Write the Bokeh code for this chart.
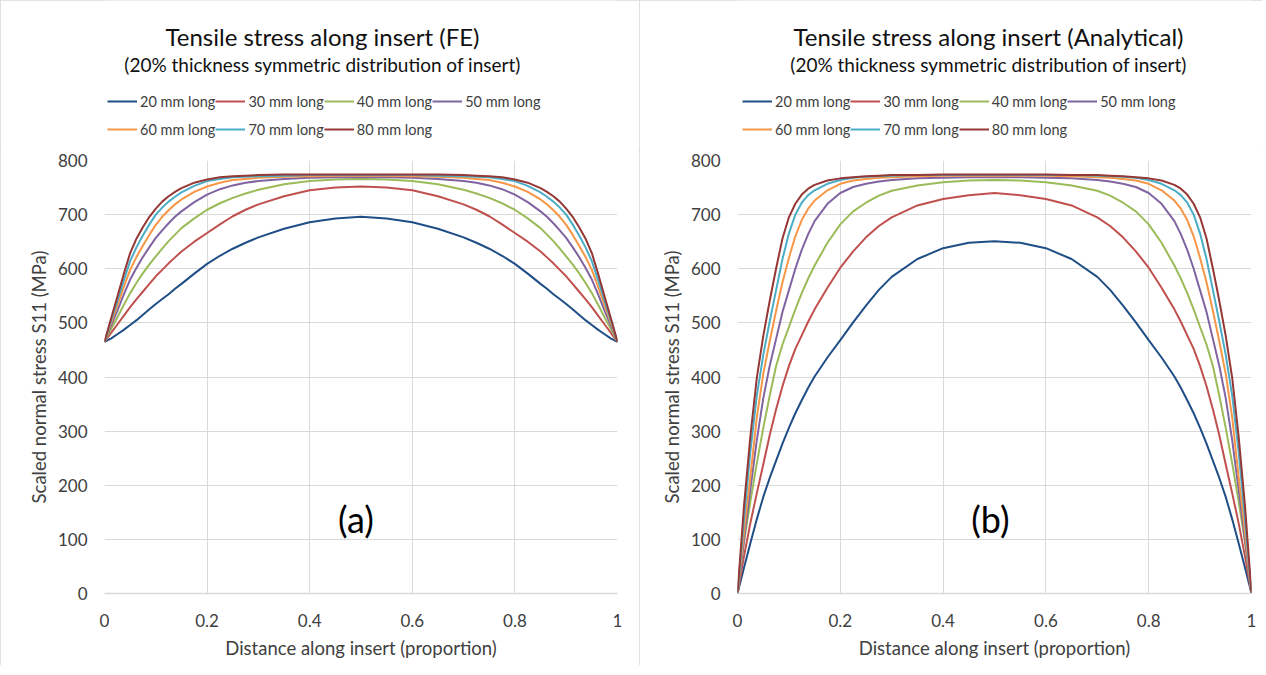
from bokeh.plotting import figure
from bokeh.layouts import row, column
from bokeh.models import Label, Legend, LegendItem, FixedTicker, Range1d
from bokeh.embed import file_html
from bokeh.resources import INLINE

# ---------------- data ----------------
x_prop = [0, 0.0125, 0.025, 0.0375, 0.05, 0.0625, 0.075, 0.0875, 0.1, 0.1125, 0.125, 0.1375, 0.15,
          0.175, 0.2, 0.225, 0.25, 0.275, 0.3, 0.35, 0.4, 0.45, 0.5,
          0.55, 0.6, 0.65, 0.7, 0.725, 0.75, 0.775, 0.8, 0.825, 0.85, 0.8625, 0.875, 0.8875,
          0.9, 0.9125, 0.925, 0.9375, 0.95, 0.9625, 0.975, 0.9875, 1]

series_names = ["20 mm long", "30 mm long", "40 mm long", "50 mm long",
                "60 mm long", "70 mm long", "80 mm long"]

fe_20 = [465, 471, 479, 487, 496, 505, 515, 525, 535, 544, 553, 563, 572, 591, 609, 624, 637, 648, 658, 674, 686, 693, 696,
         693, 686, 674, 658, 648, 637, 624, 609, 591, 572, 563, 553, 544, 535, 525, 515, 505, 496, 487, 479, 471, 465]
fe_30 = [465, 481, 497, 513, 529, 544, 558, 572, 586, 598, 610, 621, 632, 650, 666, 682, 697, 709, 719, 734, 745, 750, 752,
         750, 745, 734, 719, 709, 697, 682, 666, 650, 632, 621, 610, 598, 586, 572, 558, 544, 529, 513, 497, 481, 465]
fe_40 = [465, 488, 510, 533, 555, 574, 592, 608, 623, 637, 651, 663, 675, 693, 709, 721, 731, 739, 746, 756, 762, 765, 766,
         765, 762, 756, 746, 739, 731, 721, 709, 693, 675, 663, 651, 637, 623, 608, 592, 574, 555, 533, 510, 488, 465]
fe_50 = [465, 494, 522, 552, 580, 602, 622, 640, 657, 671, 684, 696, 706, 723, 737, 747, 754, 759, 762, 766, 768, 769, 769,
         769, 768, 766, 762, 759, 754, 747, 737, 723, 706, 696, 684, 671, 657, 640, 622, 602, 580, 552, 522, 494, 465]
fe_60 = [465, 499, 532, 566, 598, 622, 643, 663, 681, 696, 708, 719, 728, 742, 752, 759, 764, 766, 768, 770, 771, 772, 772,
         772, 771, 770, 768, 766, 764, 759, 752, 742, 728, 719, 708, 696, 681, 663, 643, 622, 598, 566, 532, 499, 465]
fe_70 = [465, 503, 540, 578, 614, 640, 662, 682, 700, 713, 724, 733, 741, 753, 762, 766, 769, 770, 771, 772, 773, 773, 773,
         773, 773, 772, 771, 770, 769, 766, 762, 753, 741, 733, 724, 713, 700, 682, 662, 640, 614, 578, 540, 503, 465]
fe_80 = [465, 507, 548, 590, 629, 656, 677, 696, 711, 724, 734, 742, 749, 759, 765, 769, 771, 772, 773, 774, 774, 774, 774,
         774, 774, 774, 773, 772, 771, 769, 765, 759, 749, 742, 734, 724, 711, 696, 677, 656, 629, 590, 548, 507, 465]

an_20 = [0, 47, 93, 137, 178, 213, 245, 277, 306, 333, 357, 380, 401, 436, 468, 501, 532, 561, 585, 618, 638, 648, 651,
         648, 638, 618, 585, 561, 532, 501, 468, 436, 401, 380, 357, 333, 306, 277, 245, 213, 178, 137, 93, 47, 0]
an_30 = [0, 68, 130, 185, 238, 292, 340, 383, 420, 452, 477, 502, 525, 565, 602, 632, 658, 679, 695, 717, 729, 736, 740,
         736, 729, 717, 695, 679, 658, 632, 602, 565, 525, 502, 477, 452, 420, 383, 340, 292, 238, 185, 130, 68, 0]
an_40 = [0, 95, 170, 240, 305, 365, 420, 460, 492, 525, 555, 582, 606, 648, 682, 706, 722, 735, 744, 754, 760, 763, 764,
         763, 760, 754, 744, 735, 722, 706, 682, 648, 606, 582, 555, 525, 492, 460, 420, 365, 305, 240, 170, 95, 0]
an_50 = [0, 98, 192, 283, 360, 420, 470, 520, 560, 600, 635, 664, 688, 720, 740, 751, 757, 761, 764, 767, 768, 769, 769,
         769, 768, 767, 764, 761, 757, 751, 740, 720, 688, 664, 635, 600, 560, 520, 470, 420, 360, 283, 192, 98, 0]
an_60 = [0, 112, 215, 325, 405, 465, 522, 575, 620, 660, 690, 711, 726, 745, 757, 763, 766, 768, 769, 771, 772, 772, 772,
         772, 772, 771, 769, 768, 766, 763, 757, 745, 726, 711, 690, 660, 620, 575, 522, 465, 405, 325, 215, 112, 0]
an_70 = [0, 135, 262, 365, 440, 502, 560, 618, 665, 700, 722, 736, 745, 757, 764, 768, 770, 771, 772, 773, 773, 773, 773,
         773, 773, 773, 772, 771, 770, 768, 764, 757, 745, 736, 722, 700, 665, 618, 560, 502, 440, 365, 262, 135, 0]
an_80 = [0, 160, 290, 398, 475, 540, 600, 656, 695, 720, 737, 748, 755, 763, 767, 769, 771, 772, 773, 773, 774, 774, 774,
         774, 774, 773, 773, 772, 771, 769, 767, 763, 755, 748, 737, 720, 695, 656, 600, 540, 475, 398, 290, 160, 0]

x_ticks = [0, 0.2, 0.4, 0.6, 0.8, 1]
x_tick_labels = ["0", "0.2", "0.4", "0.6", "0.8", "1"]
y_ticks = [0, 100, 200, 300, 400, 500, 600, 700, 800]

fe_series = [fe_20, fe_30, fe_40, fe_50, fe_60, fe_70, fe_80]
an_series = [an_20, an_30, an_40, an_50, an_60, an_70, an_80]

colors = ["#1F4E86", "#C0504D", "#9BBB59", "#8064A2", "#F79646", "#4BACC6", "#953735"]

FONT = "Lato"
GRID = "#d9d9d9"
TXT = "#404040"
HEAD_H = 150


def make_header(width, title, subtitle, series, title_cx, leg_x):
    # header strip: titles + legend (its frame is aligned with the chart frame below)
    h = figure(width=width, height=HEAD_H, output_backend="svg", toolbar_location=None,
               x_range=Range1d(0, 1), y_range=Range1d(-2, -1),
               x_axis_type=None, y_axis_type=None,
               min_border_left=0, min_border_right=0, min_border_top=0, min_border_bottom=0)
    h.grid.visible = False
    h.outline_line_color = None
    h.background_fill_color = "white"
    h.border_fill_color = "white"
    rends = [h.line(x_prop, ys, line_color=c, line_width=2) for ys, c in zip(series, colors)]
    items = [LegendItem(label=n, renderers=[r]) for n, r in zip(series_names, rends)]
    for row_items, ly in ((items[:4], 35), (items[4:], 7)):
        lg = Legend(items=row_items, orientation="horizontal", location=(leg_x, ly),
                    glyph_width=30, glyph_height=28, label_height=28, label_width=72,
                    label_standoff=3, spacing=0, padding=0, margin=0,
                    border_line_color=None, background_fill_alpha=0,
                    label_text_font=FONT, label_text_font_size="14.5px",
                    label_text_color=TXT)
        h.add_layout(lg)
    h.add_layout(Label(x=title_cx, y=HEAD_H - 36, x_units="screen", y_units="screen", text=title,
                       text_align="center", text_baseline="middle", text_font=FONT,
                       text_font_size="24px", text_color="#111111"))
    h.add_layout(Label(x=title_cx, y=HEAD_H - 64, x_units="screen", y_units="screen", text=subtitle,
                       text_align="center", text_baseline="middle", text_font=FONT,
                       text_font_size="19px", text_color="#111111"))
    return h


def make_main(series, tag, width, bl, br, tag_x):
    p = figure(width=width, height=665 - HEAD_H, output_backend="svg", toolbar_location=None,
               x_range=Range1d(0, 1), y_range=Range1d(0, 800),
               min_border_left=bl, min_border_right=br, min_border_top=160 - HEAD_H,
               min_border_bottom=72)
    p.outline_line_color = None
    p.background_fill_color = "white"
    p.border_fill_color = "white"

    p.xaxis.ticker = FixedTicker(ticks=x_ticks)
    p.xaxis.major_label_overrides = {t: l for t, l in zip(x_ticks, x_tick_labels)}
    p.yaxis.ticker = FixedTicker(ticks=y_ticks)
    p.xgrid.ticker = FixedTicker(ticks=x_ticks)
    p.ygrid.ticker = FixedTicker(ticks=y_ticks)
    for g in (p.xgrid, p.ygrid):
        g.grid_line_color = GRID
        g.grid_line_width = 1

    for ax in (p.xaxis, p.yaxis):
        ax.major_tick_line_color = None
        ax.minor_tick_line_color = None
        ax.major_tick_out = 0
        ax.major_tick_in = 0
        ax.minor_tick_out = 0
        ax.major_label_text_font = FONT
        ax.major_label_text_font_size = "17px"
        ax.major_label_text_color = TXT
        ax.axis_label_text_font = FONT
        ax.axis_label_text_font_size = "18.5px"
        ax.axis_label_text_font_style = "normal"
        ax.axis_label_text_color = TXT
    p.yaxis.axis_line_color = None
    p.xaxis.axis_line_color = GRID
    p.xaxis.axis_line_width = 1.5
    p.xaxis.major_label_standoff = 20
    p.yaxis.major_label_standoff = 17
    p.xaxis.axis_label_standoff = 7
    p.yaxis.axis_label_standoff = 5
    p.xaxis.axis_label = "Distance along insert (proportion)"
    p.yaxis.axis_label = "Scaled normal stress S11 (MPa)"

    for ys, c in zip(series, colors):
        p.line(x_prop, ys, line_color=c, line_width=2)

    p.add_layout(Label(x=tag_x, y=137, text=tag, text_align="center", text_baseline="middle",
                       text_font=FONT, text_font_size="36px", text_color="#000000"))
    return p


sub = "(20% thickness symmetric distribution of insert)"
# header frames start at the chart frames' left edges (x = 104 and x = 737 on the page)
h1 = make_header(639, "Tensile stress along insert (FE)", sub, fe_series, 218, 3)
m1 = make_main(fe_series, "(a)", 639, 104, 22, 0.49)
h2 = make_header(623, "Tensile stress along insert (Analytical)", sub, an_series, 251, 5)
m2 = make_main(an_series, "(b)", 623, 98, 11, 0.492)

c1 = column(h1, m1, spacing=0, styles={"outline": "1px solid #d9d9d9", "outline-offset": "-1px"})
c2 = column(h2, m2, spacing=0, styles={"outline": "1px solid #d9d9d9", "outline-offset": "-1px"})
layout = row(c1, c2, spacing=0)
open("out.html", "w").write(file_html(layout, INLINE))
